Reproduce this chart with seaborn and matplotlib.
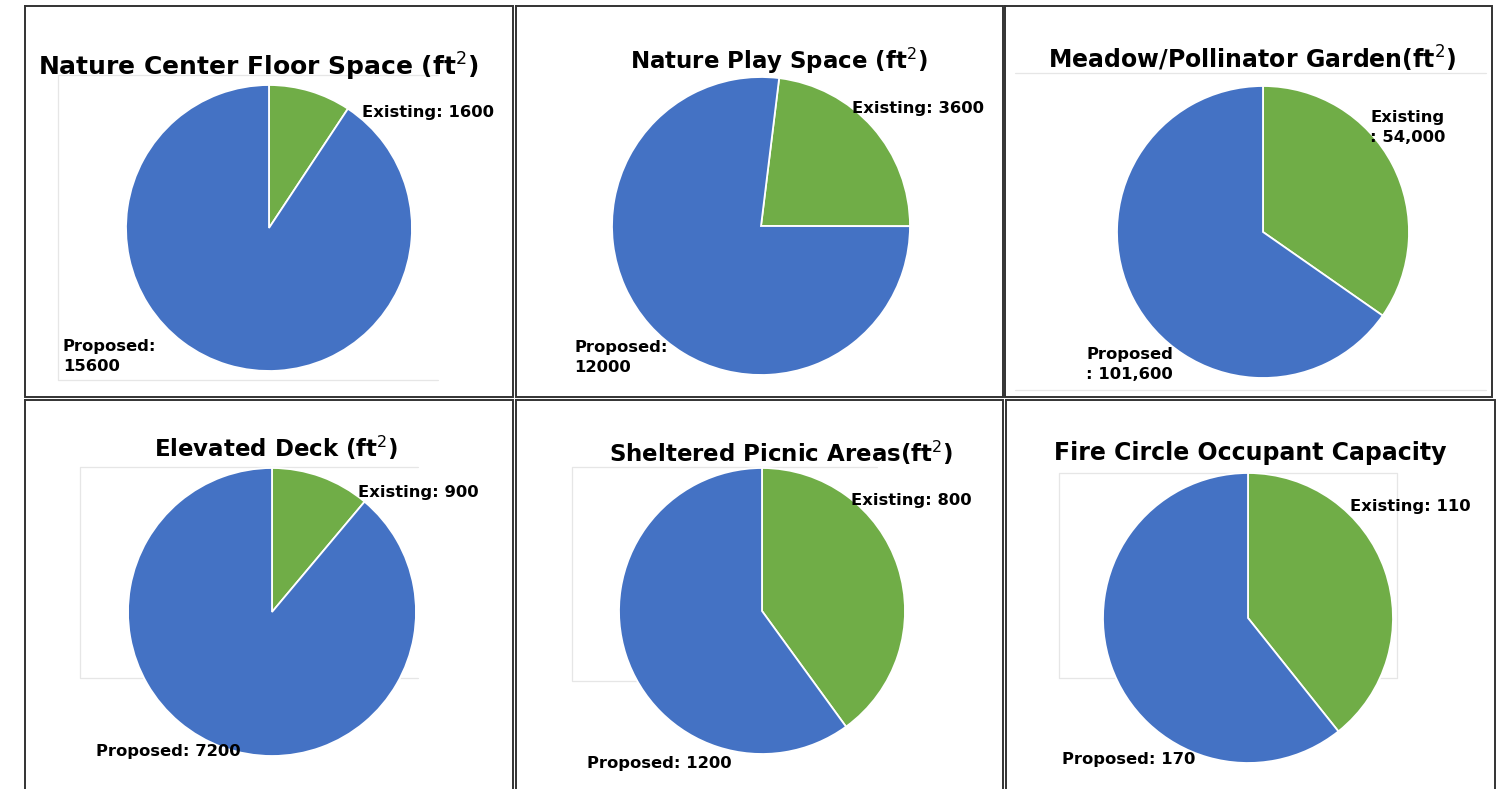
import matplotlib
matplotlib.use("Agg")
import matplotlib.pyplot as plt
import seaborn as sns
from matplotlib.lines import Line2D

# ---- data ----
titles = [
    r"Nature Center Floor Space (ft$^{2}$)",
    r"Nature Play Space (ft$^{2}$)",
    r"Meadow/Pollinator Garden(ft$^{2}$)",
    r"Elevated Deck (ft$^{2}$)",
    r"Sheltered Picnic Areas(ft$^{2}$)",
    "Fire Circle Occupant Capacity",
]
existing = [1600, 3600, 54000, 900, 800, 110]
proposed = [15600, 12000, 101600, 7200, 1200, 170]
existing_labels = ["Existing: 1600", "Existing: 3600", "Existing\n: 54,000",
                   "Existing: 900", "Existing: 800", "Existing: 110"]
proposed_labels = ["Proposed:\n15600", "Proposed:\n12000", "Proposed\n: 101,600",
                   "Proposed: 7200", "Proposed: 1200", "Proposed: 170"]

# ---- style ----
sns.set_theme(style="white")
plt.rcParams["font.family"] = ["DejaVu Sans"]
plt.rcParams["mathtext.fontset"] = "dejavusans"
palette = sns.color_palette(["#70AD47", "#4472C4"])

W, H = 1502, 789
fig = plt.figure(figsize=(W / 100, H / 100), dpi=100)
fig.patch.set_facecolor("white")

def fx(x):
    return x / W

def fy(y):
    return 1 - y / H

# ---- layout (pixels) ----
pie_geom = [  # cx, cy, r, startangle
    (269, 228, 143, 90),
    (761, 226, 149, 83),
    (1263, 232, 146, 90),
    (272, 612, 144, 90),
    (762, 611, 143, 90),
    (1248, 618, 145, 90),
]
title_pos = [(258, 76, 18), (779, 69, 16.5), (1252, 69, 17),
             (276, 457, 16.5), (781, 462, 16.5), (1250, 460, 17)]
# y = baseline of the last text line
exist_pos = [(362, 117, "left"), (852, 113, "left"), (1445, 142, "right"),
             (358, 497, "left"), (851, 505, "left"), (1350, 511, "left")]
prop_pos = [(63, 371, "left"), (574, 372, "left"), (1173, 379, "right"),
            (96, 756, "left"), (587, 768, "left"), (1062, 764, "left")]
label_fs = 11.8

# faint chart-area remnants (behind the pies)
faint = [
    [(58, 75), (58, 380), (438, 380)], [(58, 75), (438, 75)],
    [(1015, 73), (1486, 73)], [(1015, 390), (1486, 390)],
    [(418, 467), (80, 467), (80, 678), (418, 678)],
    [(877, 467), (572, 467), (572, 681), (877, 681)],
    [(1059, 473), (1397, 473), (1397, 678), (1059, 678), (1059, 473)],
]
for pts in faint:
    fig.add_artist(Line2D([fx(p[0]) for p in pts], [fy(p[1]) for p in pts],
                          color="#e6e6e6", lw=0.9, transform=fig.transFigure,
                          zorder=-5))

for i in range(6):
    cx, cy, r, sa = pie_geom[i]
    ax = fig.add_axes([fx(cx - r), fy(cy + r), 2 * r / W, 2 * r / H])
    ax.patch.set_alpha(0)
    ax.pie([existing[i], proposed[i]], colors=palette, startangle=sa,
           counterclock=False, radius=1,
           wedgeprops=dict(edgecolor="white", linewidth=1.3))
    ax.set_xlim(-1.0, 1.0)
    ax.set_ylim(-1.0, 1.0)
    ax.set_aspect("equal")
    ax.axis("off")

    tx, ty, tfs = title_pos[i]
    fig.text(fx(tx), fy(ty), titles[i], ha="center", va="baseline",
             fontsize=tfs, fontweight="bold", color="black")
    ex, ey, eha = exist_pos[i]
    fig.text(fx(ex), fy(ey), existing_labels[i], ha=eha, va="baseline",
             multialignment=eha, fontsize=label_fs, fontweight="bold",
             linespacing=1.45, color="black")
    px_, py_, pha = prop_pos[i]
    fig.text(fx(px_), fy(py_), proposed_labels[i], ha=pha, va="baseline",
             multialignment=pha, fontsize=label_fs, fontweight="bold",
             linespacing=1.45, color="black")

# ---- table borders ----
cells = [
    (25, 513, 6, 397), (516, 1003, 6, 397), (1005, 1492, 6, 397),
    (25, 513, 400, 800), (516, 1003, 400, 800), (1006, 1495, 400, 800),
]
for x0, x1, y0, y1 in cells:
    fig.add_artist(Line2D([fx(x0), fx(x1), fx(x1), fx(x0), fx(x0)],
                          [fy(y0), fy(y0), fy(y1), fy(y1), fy(y0)],
                          color="#333333", lw=1.4, transform=fig.transFigure,
                          solid_joinstyle="miter"))

fig.savefig("out.png", dpi=100, facecolor="white")
